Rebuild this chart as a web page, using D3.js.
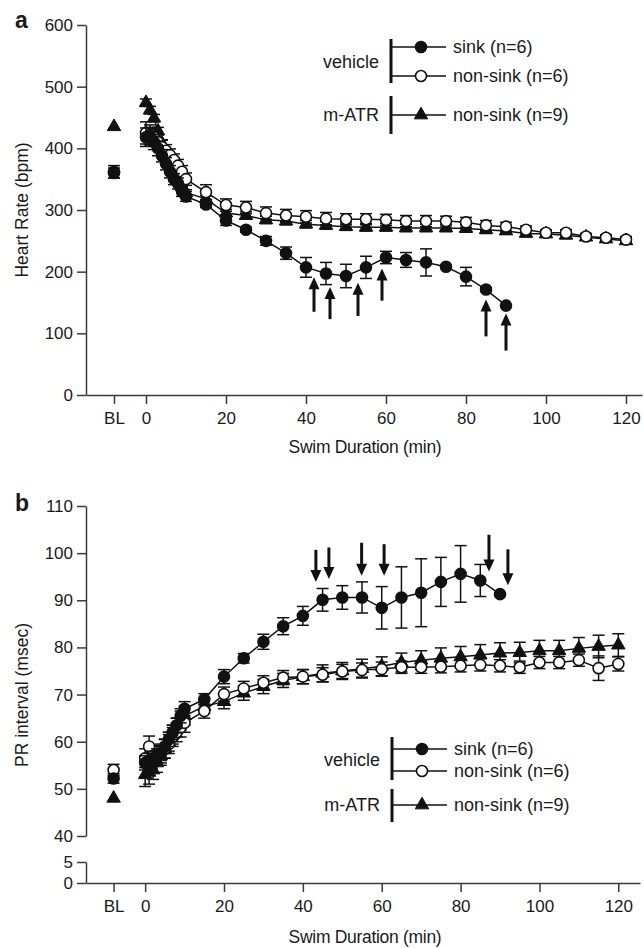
<!DOCTYPE html>
<html><head><meta charset="utf-8">
<script src="https://cdn.jsdelivr.net/npm/d3@7"></script>
<style>
body{margin:0;background:#fff}
svg{display:block}
text{font-family:"Liberation Sans",Arial,Helvetica,sans-serif;fill:#1a1a1a}
</style>
</head><body>
<svg id="c" width="644" height="948"></svg>
<script>
// ---------------- DATA ----------------
const times = [0,1,2,3,4,5,6,7,8,9,10,15,20,25,30,35,40,45,50,55,60,65,70,75,80,85,90,95,100,105,110,115,120];
const BL = -8; // baseline position on the x axis
const xTickValues = [BL,0,20,40,60,80,100,120];
const xTickLabels = ["BL","0","20","40","60","80","100","120"];

// Panel a: Heart rate (bpm)
const hrSink      = [418,420,410,400,388,375,362,350,343,330,322,309,283,268,250,230,207,197,193,207,223,219,215,208,192,171,145];
const hrSinkErr   = [15,14,12,12,10,10,10,9,9,8,8,5,8,4,7,10,16,18,19,18,10,12,22,3,15,3,0];
const hrNonSink   = [425,422,418,410,402,396,389,381,372,362,350,329,308,304,295,291,289,286,285,285,284,282,282,282,280,275,273,268,263,263,257,255,252];
const hrNonSinkErr= [18,16,14,12,12,10,10,10,10,10,10,12,10,10,10,10,10,10,9,9,9,9,9,8,8,8,7,6,5,5,5,5,5];
const hrMatr      = [474,462,449,428,408,390,375,362,350,338,328,318,295,291,284,282,277,275,273,272,272,271,271,271,270,268,266,262,261,259,256,253,250];
const hrMatrErr   = [6,6,6,6,5,5,5,5,5,5,5,5,6,6,6,6,6,6,6,6,6,6,6,6,6,6,5,5,5,5,5,5,5];
const hrBaseline    = [362,360,435];   // sink, non-sink, m-ATR
const hrBaselineErr = [10,8,0];
const hrTicks = [0,100,200,300,400,500,600];
const hrArrowTime = [42,46,53,59,85,90];
const hrArrowTip  = [191,175,182,205,155,132];
const hrArrowTail = [135,123,128,153,95,72];

// Panel b: PR interval (msec)
const prSink      = [55.5,56,56.5,57,57.5,59,60.5,62,63.5,65.5,67,69,73.8,77.7,81.2,84.5,86.7,90.1,90.6,90.6,88.4,90.6,91.6,93.9,95.6,94.2,91.3];
const prSinkErr   = [1.5,1.5,1.5,1.5,1.5,1.5,1.5,1.5,1.5,1.5,1.5,1.2,1.5,1,1.6,1.8,2.0,2.4,2.5,3.3,4.5,6.5,7.2,5.2,6.0,3.4,0];
const prNonSink   = [56.5,59,57,57.2,57.5,58.5,59.5,61,62,63,64,66.5,70.1,71.3,72.5,73.6,73.8,74.2,74.9,75.2,75.4,75.8,75.8,75.9,76.1,76.3,76.1,75.8,76.8,76.8,77.3,75.6,76.5];
const prNonSinkErr= [2,2.2,2,2,2,2,2,2,2,2,2,1.5,1.5,1.5,1.5,1.5,1.5,1.5,1.5,1.5,1.5,1.3,1.3,1.3,1.3,1.3,1.3,1.3,1.3,1.3,1.3,2.6,1.5];
const prMatr      = [53,53.5,54,55.5,57,58.5,60,61.5,63,64.5,65.5,67.5,68.5,70.3,71.7,73,73.8,74.5,75,75.5,76,76.8,77.3,77.7,78,78.4,78.8,78.9,79.3,79.3,79.8,80.2,80.5];
const prMatrErr   = [2.5,2.5,2,2,2,2,2,2,2,2,2,1.5,1.5,1.5,1.5,1.5,1.5,1.8,1.8,2,2,2,2,2.2,2.2,2.2,2.2,2.2,2.2,2.2,2.3,2.4,2.4];
const prBaseline    = [52.2,54,48];
const prBaselineErr = [1,1.2,0];
const prTicksUpper = [40,50,60,70,80,90,100,110];
const prTicksLower = [0,5];
const prArrowTime = [43.3,46.6,54.9,60.6,87.2,92];
const prArrowTail = [100.7,101.2,102.2,101.9,103.9,100.8];
const prArrowTip  = [93.9,94.5,95.2,95.2,96.1,93.2];

const legendGroups = ["vehicle","m-ATR"];
const legendLabels = ["sink (n=6)","non-sink (n=6)","non-sink (n=9)"];
const seriesTypes  = ["filled","open","triangle"];

// ---------------- DRAW ----------------
const svg = d3.select("#c");
const INK = "#111";
const AX = "#3a3a3a";
const fmtInt = d3.format("d");

function marker(g, type, cx, cy) {
  if (type === "triangle") {
    g.append("path").attr("d", d3.symbol(d3.symbolTriangle, 78)())
      .attr("transform", `translate(${cx},${cy})`)
      .attr("fill", INK).attr("stroke", INK).attr("stroke-width", 1);
  } else {
    g.append("circle").attr("cx", cx).attr("cy", cy).attr("r", 5.5)
      .attr("fill", type === "filled" ? INK : "#fff")
      .attr("stroke", INK).attr("stroke-width", 1.6);
  }
}

function errBar(g, cx, y, v, e) {
  if (!e) return;
  const y1 = y(v - e), y2 = y(v + e);
  g.append("line").attr("x1", cx).attr("x2", cx).attr("y1", y1).attr("y2", y2)
    .attr("stroke", INK).attr("stroke-width", 1.5);
  [y1, y2].forEach(yy => g.append("line").attr("x1", cx - 6).attr("x2", cx + 6)
    .attr("y1", yy).attr("y2", yy).attr("stroke", INK).attr("stroke-width", 1.5));
}

function series(g, x, y, vals, errs, type) {
  const line = d3.line().x((d, i) => x(times[i])).y(d => y(d));
  g.append("path").attr("d", line(vals)).attr("fill", "none")
    .attr("stroke", INK).attr("stroke-width", 1.5);
  const eg = g.append("g");
  vals.forEach((v, i) => errBar(eg, x(times[i]), y, v, errs[i]));
  const mg = g.append("g");
  vals.forEach((v, i) => marker(mg, type, x(times[i]), y(v)));
}

function baseline(g, x, y, vals, errs) {
  [2, 1, 0].forEach(k => {
    errBar(g, x(BL), y, vals[k], errs[k]);
    marker(g, seriesTypes[k], x(BL), y(vals[k]));
  });
}

function arrows(g, x, y, ts, tips, tails, up) {
  ts.forEach((t, i) => {
    const cx = x(t), yt = y(tips[i]), ytail = y(tails[i]);
    const dir = up ? 1 : -1;
    const headH = 12, headW = 5.5;
    g.append("line").attr("x1", cx).attr("x2", cx)
      .attr("y1", yt + dir * (headH - 1)).attr("y2", ytail)
      .attr("stroke", INK).attr("stroke-width", 3);
    g.append("path").attr("d",
      `M${cx},${yt} L${cx - headW},${yt + dir * headH} L${cx + headW},${yt + dir * headH} Z`)
      .attr("fill", INK);
  });
}

function styleAxis(sel) {
  sel.selectAll(".domain").attr("stroke", AX).attr("stroke-width", 1.5);
  sel.selectAll(".tick line").attr("stroke", AX).attr("stroke-width", 1.5);
  sel.selectAll(".tick text").style("font-size", "17px").attr("fill", "#1a1a1a")
    .style("font-family", '"Liberation Sans",Arial,sans-serif');
}

function xAxis(x, yPos) {
  const g = svg.append("g").attr("transform", `translate(0,${yPos})`)
    .call(d3.axisBottom(x).tickValues(xTickValues)
      .tickFormat((d, i) => xTickLabels[i]).tickSize(9).tickSizeOuter(0).tickPadding(8));
  styleAxis(g);
  return g;
}

function legend(g, x0, rowsY, groupSpans, groupTextY) {
  groupSpans.forEach((s, k) => {
    g.append("line").attr("x1", x0).attr("x2", x0).attr("y1", s[0]).attr("y2", s[1])
      .attr("stroke", INK).attr("stroke-width", 3);
    g.append("text").attr("x", x0 - 12).attr("y", groupTextY[k]).attr("dy", "0.35em")
      .attr("text-anchor", "end").style("font-size", "18px").text(legendGroups[k]);
  });
  legendLabels.forEach((lab, k) => {
    const yy = rowsY[k];
    g.append("line").attr("x1", x0 + 1).attr("x2", x0 + 55).attr("y1", yy).attr("y2", yy)
      .attr("stroke", INK).attr("stroke-width", 1.5);
    marker(g, seriesTypes[k], x0 + 30, yy);
    g.append("text").attr("x", x0 + 62).attr("y", yy).attr("dy", "0.35em")
      .style("font-size", "18px").text(lab);
  });
}

// ---- Panel a ----
const xA = d3.scaleLinear([-15, 124], [86, 642]);
const yA = d3.scaleLinear([0, 600], [395, 25]);
{
  const gy = svg.append("g").attr("transform", "translate(86,0)")
    .call(d3.axisLeft(yA).tickValues(hrTicks).tickFormat(fmtInt).tickSize(9).tickSizeOuter(0).tickPadding(4));
  styleAxis(gy);
  xAxis(xA, 395);
  const g = svg.append("g");
  series(g, xA, yA, hrMatr, hrMatrErr, "triangle");
  series(g, xA, yA, hrNonSink, hrNonSinkErr, "open");
  series(g, xA, yA, hrSink, hrSinkErr, "filled");
  baseline(g, xA, yA, hrBaseline, hrBaselineErr);
  arrows(g, xA, yA, hrArrowTime, hrArrowTip, hrArrowTail, true);
  legend(svg.append("g"), 391, [47, 76, 115], [[39, 83], [96, 134]], [62, 115]);
  svg.append("text").attr("x", 15).attr("y", 28).style("font-size", "23px")
    .style("font-weight", "bold").text("a");
  svg.append("text").attr("transform", "translate(28,210) rotate(-90)")
    .attr("text-anchor", "middle").style("font-size", "17.5px").text("Heart Rate (bpm)");
  svg.append("text").attr("x", 365).attr("y", 453).attr("text-anchor", "middle")
    .style("font-size", "17.5px").style("letter-spacing", "-0.3px").text("Swim Duration (min)");
}

// ---- Panel b ----
const xB = d3.scaleLinear([-15, 125.5], [86, 640]);
const yB = d3.scaleLinear([40, 110], [836, 506]);
const yB0 = d3.scaleLinear([0, 5], [883, 862]);
{
  const gu = svg.append("g").attr("transform", "translate(86,0)")
    .call(d3.axisLeft(yB).tickValues(prTicksUpper).tickFormat(fmtInt).tickSize(9).tickSizeOuter(0).tickPadding(4));
  styleAxis(gu);
  const gl = svg.append("g").attr("transform", "translate(86,0)")
    .call(d3.axisLeft(yB0).tickValues(prTicksLower).tickFormat(fmtInt).tickSize(9).tickSizeOuter(0).tickPadding(4));
  styleAxis(gl);
  xAxis(xB, 883);
  const g = svg.append("g");
  series(g, xB, yB, prMatr, prMatrErr, "triangle");
  series(g, xB, yB, prNonSink, prNonSinkErr, "open");
  series(g, xB, yB, prSink, prSinkErr, "filled");
  baseline(g, xB, yB, prBaseline, prBaselineErr);
  arrows(g, xB, yB, prArrowTime, prArrowTip, prArrowTail, false);
  legend(svg.append("g"), 392, [749, 771, 805], [[737, 780], [789, 822]], [760, 805]);
  svg.append("text").attr("x", 15).attr("y", 511).style("font-size", "23px")
    .style("font-weight", "bold").text("b");
  svg.append("text").attr("transform", "translate(28,695) rotate(-90)")
    .attr("text-anchor", "middle").style("font-size", "17.5px").text("PR interval (msec)");
  svg.append("text").attr("x", 365).attr("y", 943).attr("text-anchor", "middle")
    .style("font-size", "17.5px").style("letter-spacing", "-0.3px").text("Swim Duration (min)");
}
</script>
</body></html>
